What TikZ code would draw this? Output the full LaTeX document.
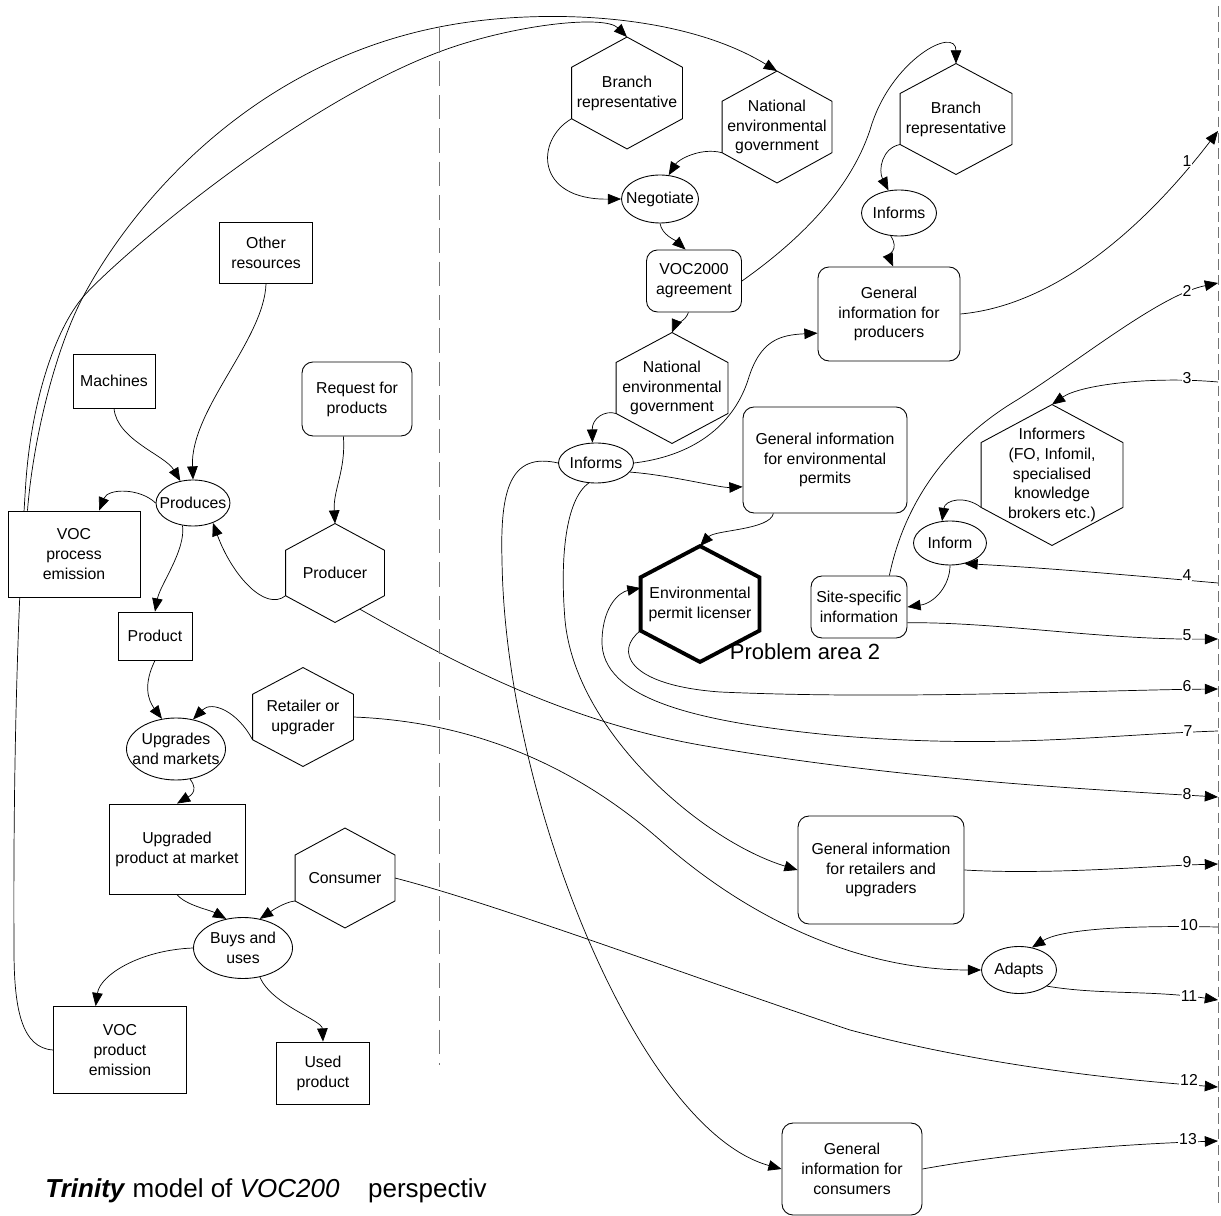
\documentclass[tikz,border=0pt]{standalone}
\usepackage{fontspec}
\setmainfont{Liberation Sans}
\usepackage{tikz}
\usetikzlibrary{calc, positioning, shapes.geometric, arrows.meta, backgrounds}
\newcommand{\boxfont}{\fontsize{9}{11.3}\selectfont}
\newcommand{\labfont}{\fontsize{9}{10}\selectfont}
\tikzstyle{box}=[draw, fill=white, rectangle, inner sep=1pt, align=center, font=\boxfont]
\tikzstyle{rbox}=[box, rounded corners=2.2mm]
\tikzstyle{act}=[draw, fill=white, ellipse, inner sep=0pt, align=center, font=\boxfont]
\tikzstyle{hexa}=[rectangle, inner sep=0pt, align=center, font=\boxfont]
\tikzstyle{numlab}=[fill=white, inner sep=0.5pt, font=\labfont]
\tikzset{>={Triangle[length=7.5pt,width=6pt]}}
% hexagon outline round a hexa node, corners named <node>-ne, -se, -sw, -nw
\newcommand{\hexa}[2][]{%
\draw[#1] (#2.north) -- ($(#2.north east)!.27!(#2.south east)$) coordinate (#2-ne)
  -- ($(#2.south east)!.27!(#2.north east)$) coordinate (#2-se)
  -- (#2.south) -- ($(#2.south west)!.27!(#2.north west)$) coordinate (#2-sw)
  -- ($(#2.north west)!.27!(#2.south west)$) coordinate (#2-nw) -- cycle;}

\begin{document}
\begin{tikzpicture}[x=0.2mm, y=-0.2mm, line width=0.5pt]
\useasboundingbox (0,0) rectangle (1221,1216);

% separators
\draw[black!55, dash pattern=on 14pt off 5pt] (439,28) -- (439,1065);
\draw[black!55, dash pattern=on 6pt off 3pt] (1218,6) -- (1218,1205);

% production chain
\node[box, minimum width=16.4mm, minimum height=10.8mm] (mach) at (114,381) {Machines};
\node[box, minimum width=18.6mm, minimum height=12.2mm] (other) at (266,253) {Other\\resources};
\node[rbox, minimum width=22mm, minimum height=14.8mm] (req) at (357,399) {Request for\\products};
\node[act, minimum width=14.8mm, minimum height=9.2mm, inner xsep=-1.5mm] (prodc) at (193,503) {Produces};
\node[box, minimum width=26.4mm, minimum height=17.2mm] (vocp) at (74,554) {VOC\\process\\emission};
\node[hexa, minimum width=19.6mm, minimum height=19.6mm] (producer) at (335,573) {Producer};
\node[box, minimum width=14.8mm, minimum height=9.6mm] (product) at (155,636) {Product};
\node[act, minimum width=19.8mm, minimum height=12.4mm, inner xsep=-1.75mm] (upgr) at (176,749) {Upgrades\\and markets};
\node[hexa, minimum width=20mm, minimum height=19.6mm] (retail) at (303,717) {Retailer or\\upgrader};
\node[box, minimum width=27.2mm, minimum height=18mm] (upm) at (177,849) {Upgraded\\product at market};
\node[hexa, minimum width=19.8mm, minimum height=19.8mm] (cons) at (345,878) {Consumer};
\node[act, minimum width=19.8mm, minimum height=12.2mm, inner xsep=0.3mm] (buys) at (243,948) {Buys and\\uses};
\node[box, minimum width=26.6mm, minimum height=17.4mm] (vocprod) at (120,1050) {VOC\\product\\emission};
\node[box, minimum width=18.6mm, minimum height=12.4mm] (used) at (323,1073) {Used\\product};

% agreement and information side
\node[hexa, minimum width=22mm, minimum height=22.2mm] (brA) at (627,93) {Branch\\representative};
\node[hexa, minimum width=21.8mm, minimum height=22.2mm] (natA) at (777,127) {National\\environmental\\government};
\node[act, minimum width=15.4mm, minimum height=9.6mm, inner xsep=-1.4mm] (neg) at (660,199) {Negotiate};
\node[rbox, minimum width=19mm, minimum height=12.4mm] (agree) at (694,281) {VOC2000\\agreement};
\node[hexa, minimum width=22.2mm, minimum height=22mm] (natB) at (672,388) {National\\environmental\\government};
\node[act, minimum width=15mm, minimum height=8mm] (infL) at (596,463) {Informs};
\node[rbox, minimum width=32.8mm, minimum height=21.2mm] (genenv) at (825,460) {General information\\for environmental\\permits};
\node[hexa, minimum width=23.6mm, minimum height=23mm] (lic) at (700,604) {Environmental\\permit licenser};
\node[hexa, minimum width=22.2mm, minimum height=22mm] (brB) at (956,119) {Branch\\representative};
\node[act, minimum width=15mm, minimum height=9.2mm] (infR) at (899,213) {Informs};
\node[rbox, minimum width=28.4mm, minimum height=18.8mm] (genprod) at (889,314) {General\\information for\\producers};
\node[hexa, minimum width=28.2mm, minimum height=28mm] (informers) at (1052,475) {Informers\\(FO, Infomil,\\specialised\\knowledge\\brokers etc.)};
\node[act, minimum width=14.6mm, minimum height=8.8mm, inner xsep=0.6mm] (inform) at (950,543) {Inform};
\node[rbox, minimum width=19.2mm, minimum height=12.4mm] (site) at (859,607) {Site-specific\\information};
\node[rbox, minimum width=33.2mm, minimum height=21.6mm] (genret) at (881,870) {General information\\for retailers and\\upgraders};
\node[act, minimum width=15mm, minimum height=9.4mm, inner xsep=0.3mm] (adapts) at (1019,970) {Adapts};
\node[rbox, minimum width=28mm, minimum height=18.4mm] (gencons) at (852,1169) {General\\information for\\consumers};

\foreach \h in {producer, retail, cons, brA, natA, natB, brB, informers}
  \hexa{\h};
\hexa[line width=2.2pt]{lic};

\node[inner sep=0pt, font=\fontsize{12.5}{15}\selectfont] (prob) at (805,652) {Problem area 2};
\node[anchor=base west, inner sep=0pt, font=\fontsize{14.8}{18}\selectfont] (title) at (45,1197)
  {\textbf{\textit{Trinity}} model of \textit{VOC200}\hspace{1.1em}perspectiv};

% ends on the right border
\foreach \n/\y in {1/131, 2/283, 3/382, 4/583, 5/639, 6/689, 7/731, 8/797, 9/864, 10/927, 11/1000, 12/1087, 13/1141}
  \coordinate (r\n) at (1218,\y);
\foreach \n/\x/\y in {1/1187/161, 2/1187/291, 3/1187/378, 4/1187/575, 5/1187/635, 6/1187/686, 7/1188/731, 8/1187/794, 9/1187/862, 10/1189/925, 11/1189/996, 12/1189/1080, 13/1188/1139}
  \node[numlab] (n\n) at (\x,\y) {\n};

\begin{scope}[on background layer, ->]
% production chain
\draw (mach.south) .. controls (117,440) and (165,455) .. (prodc.120);
\draw (other.south) .. controls (264,340) and (190,410) .. (prodc.north);
\draw (req.250) .. controls (346,470) and (333,490) .. (producer.north);
\draw (producer-sw) .. controls (265,612) and (232,575) .. (prodc.315);
\draw (prodc.west) .. controls (140,488) and (108,488) .. (vocp.60);
\draw (prodc.245) .. controls (186,550) and (160,585) .. (product.north);
\draw (product.south) .. controls (143,685) and (148,700) .. (upgr.115);
\draw (retail-sw) .. controls (238,712) and (212,700) .. (upgr.60);
\draw (upgr.295) .. controls (200,792) and (188,797) .. (upm.north);
\draw (upm.south) .. controls (185,905) and (210,910) .. (buys.120);
\draw (cons-sw) .. controls (285,902) and (273,910) .. (buys.60);
\draw (buys.west) .. controls (140,950) and (100,975) .. (vocprod.119);
\draw (buys.300) .. controls (272,1005) and (322,1020) .. (used.north);
% emissions up to the agreement
\draw ($(vocp.north west)!.15!(vocp.north east)$) .. controls (33,440) and (55,350) .. (83,297)
  .. controls (130,208) and (250,60) .. (450,25) .. controls (540,9) and (680,12) .. (natA.north);
\draw (vocprod.west) .. controls (22,1048) and (14,1010) .. (14,950) .. controls (13,760) and (18,600) .. (26,480)
  .. controls (32,400) and (55,330) .. (83,297) .. controls (115,260) and (300,100) .. (450,48)
  .. controls (520,24) and (605,15) .. (brA.north);
% agreement
\draw (brA-sw) .. controls (535,140) and (535,200) .. (neg.west);
\draw (natA-sw) .. controls (700,147) and (678,160) .. (neg.70);
\draw (neg.south) .. controls (662,235) and (675,240) .. (agree.105);
\draw (agree.east) .. controls (800,240) and (850,190) .. (870,130) .. controls (890,60) and (956,25) .. (brB.north);
\draw (agree.260) .. controls (685,322) and (675,325) .. (natB.north);
\draw (natB-sw) .. controls (605,410) and (592,418) .. (infL.100);
\draw (infL.east) .. controls (700,455) and (735,420) .. (748,380) .. controls (760,340) and (780,335) .. (genprod.195);
\draw (infL.345) .. controls (670,475) and (720,488) .. (genenv.198);
\draw (genenv.226) .. controls (770,530) and (715,530) .. (lic.north);
\draw (infL.west) .. controls (510,452) and (500,490) .. (502,560) .. controls (505,800) and (640,1130) .. (gencons.west);
\draw (infL.250) .. controls (565,500) and (560,560) .. (565,620) .. controls (575,730) and (700,840) .. (genret.west);
\draw (retail.east) .. controls (480,722) and (580,770) .. (660,840) .. controls (750,920) and (860,970) .. (adapts.west);
% informers
\draw (brB-sw) .. controls (882,148) and (878,170) .. (infR.115);
\draw (infR.250) .. controls (900,250) and (888,255) .. (genprod.85);
\draw (informers-sw) .. controls (965,495) and (945,500) .. (inform.110);
\draw (inform.south) .. controls (950,585) and (935,603) .. (site.east);
% numbered links
\draw (genprod.east) .. controls (1060,305) and (1150,220) .. (r1);
\draw (site.46) .. controls (905,500) and (950,440) .. (1017,400) .. controls (1080,360) and (1160,295) .. (r2);
\draw (r3) .. controls (1150,376) and (1080,385) .. (informers.north);
\draw (r4) .. controls (1150,577) and (1050,568) .. (inform.305);
\draw (site.342) .. controls (1000,622) and (1100,640) .. (r5);
\draw (lic-sw) .. controls (615,650) and (625,685) .. (720,692) .. controls (900,700) and (1100,690) .. (r6);
\draw (r7) .. controls (1100,735) and (1000,750) .. (830,735) .. controls (700,722) and (600,700) .. (602,640)
  .. controls (603,605) and (620,592) .. ($(lic-nw)!.2!(lic-sw)$);
\draw ($(producer-se)!.5!(producer.south)$) .. controls (450,660) and (560,720) .. (700,745)
  .. controls (900,780) and (1100,790) .. (r8);
\draw (genret.east) .. controls (1050,875) and (1150,866) .. (r9);
\draw (r10) .. controls (1120,925) and (1060,930) .. (adapts.60);
\draw (adapts.330) .. controls (1100,995) and (1150,990) .. (r11);
\draw (cons.east) .. controls (500,905) and (700,980) .. (850,1030) .. controls (1000,1070) and (1150,1082) .. (r12);
\draw (gencons.east) .. controls (1000,1155) and (1100,1145) .. (r13);
\end{scope}
\end{tikzpicture}
\end{document}
